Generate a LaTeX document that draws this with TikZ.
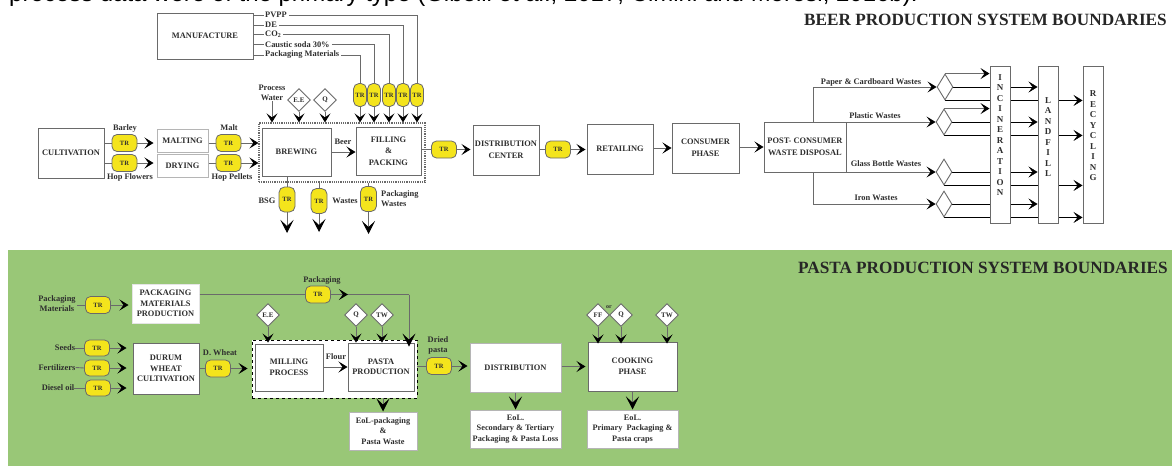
\documentclass[tikz,border=0pt]{standalone}
\usepackage{fontspec}
\setmainfont{Liberation Serif}
\newfontfamily\topfont{Liberation Sans}
\usetikzlibrary{arrows.meta,shapes.geometric,calc,backgrounds}
\definecolor{pill}{HTML}{F4E41C}
\definecolor{gr}{HTML}{99C777}
\definecolor{ln}{HTML}{6A6A6A}
\definecolor{txt}{HTML}{2E2E2E}
\tikzset{
  >={Stealth[length=9pt,width=11pt,inset=4pt,color=black]},
  big/.style={>={Stealth[length=13pt,width=13pt,inset=6pt,color=black]}},
  conn/.style={draw=ln,line width=0.9pt},
  boxn/.style={draw=ln,line width=1pt,fill=white,inner sep=0pt,align=center,font=\bfseries\fontsize{8.4}{10.5}\selectfont,text=txt},
  smallbox/.style={boxn,draw=ln!50,font=\bfseries\fontsize{8.3}{10.5}\selectfont},
  trh/.style={draw=ln,line width=0.8pt,fill=pill,rounded corners=5pt,minimum width=25pt,minimum height=17pt,inner sep=0pt,font=\bfseries\fontsize{6.5}{7}\selectfont,text=txt},
  trv/.style={draw=ln,line width=0.8pt,fill=pill,rounded corners=5.5pt,minimum width=13pt,minimum height=23pt,inner sep=0pt,font=\bfseries\fontsize{6.5}{7}\selectfont,text=txt},
  trb/.style={trv,minimum width=16pt,minimum height=25pt},
  dia/.style={diamond,aspect=1,draw=ln,line width=0.9pt,fill=white,minimum width=23pt,minimum height=23pt,inner sep=0pt,font=\bfseries\fontsize{7}{8}\selectfont,text=txt},
  wdia/.style={dia,minimum width=16pt,minimum height=26pt,aspect=0.6},
  lab/.style={inner sep=0pt,align=center,font=\bfseries\fontsize{8.4}{10}\selectfont,text=txt},
  stack/.style={lab,font=\bfseries\fontsize{9}{10.5}\selectfont},
  head/.style={inner sep=0pt,font=\bfseries\fontsize{17.2}{19}\selectfont,text=black!85},
}
\begin{document}
\begin{tikzpicture}[x=1pt,y=-1pt]
\useasboundingbox (0,0) rectangle (1172,466);
\clip (0,0) rectangle (1172,466);
\begin{scope}[on background layer]
\fill[white] (0,0) rectangle (1172,466);
\fill[gr] (8,250) rectangle (1172,466);
\end{scope}
\node[anchor=base west,inner sep=0pt,font=\topfont\fontsize{24}{26}\selectfont] at (9,1.5) {process data were of the primary type (Gibelli et al., 2017; Cimini and Moresi, 2016b).};
\node[head,anchor=east] (beerh) at (1167,20) {BEER PRODUCTION SYSTEM BOUNDARIES};
\node[head,anchor=east] (pastah) at (1168,268) {PASTA PRODUCTION SYSTEM BOUNDARIES};

% ---------- BEER: boxes
\node[boxn,minimum width=96pt,minimum height=46pt] (manu) at (205,36) {MANUFACTURE};
\node[boxn,minimum width=66pt,minimum height=50pt] (cult) at (71,153) {CULTIVATION};
\node[boxn,minimum width=51pt,minimum height=23pt,draw=ln!50] (malt) at (182.5,141) {MALTING};
\node[boxn,minimum width=51pt,minimum height=23pt,draw=ln!50] (dry) at (182.5,166) {DRYING};
\node[draw=ln,densely dotted,line width=1.2pt,minimum width=166pt,minimum height=59pt,inner sep=0pt] (dotbox) at (342,152.5) {};
\node[boxn,minimum width=69pt,minimum height=48pt] (brew) at (296.5,152) {BREWING};
\node[boxn,minimum width=65pt,minimum height=48pt] (fill) at (388.5,151) {FILLING\\[1pt]\&\\[1pt]PACKING};
\node[boxn,minimum width=66pt,minimum height=50pt] (dist) at (506,150) {DISTRIBUTION\\[1pt]CENTER};
\node[boxn,minimum width=66pt,minimum height=50pt] (ret) at (620,149) {RETAILING};
\node[boxn,minimum width=67pt,minimum height=50pt] (cons) at (705.5,148) {CONSUMER\\[1pt]PHASE};
\node[boxn,minimum width=82pt,minimum height=50pt] (post) at (805,147) {POST- CONSUMER\\[1pt]WASTE DISPOSAL};

% beer TR
\node[trh] (t1) at (124.5,143) {TR};
\node[trh] (t2) at (124.5,163) {TR};
\node[trh] (t3) at (228.5,143) {TR};
\node[trh] (t4) at (228.5,163) {TR};
\node[trh] (t5) at (444,149.5) {TR};
\node[trh] (t6) at (558,149.5) {TR};
\node[trv] (v1) at (360,95) {TR};
\node[trv] (v2) at (374,95) {TR};
\node[trv] (v3) at (389,95) {TR};
\node[trv] (v4) at (403,95) {TR};
\node[trv] (v5) at (417,95) {TR};
\node[trb] (b1) at (287,199.5) {TR};
\node[trb] (b2) at (319,201) {TR};
\node[trb] (b3) at (368.5,199) {TR};

% beer labels
\node[lab] (lbar) at (125,128) {Barley};
\node[lab] (lhf) at (130,177) {Hop Flowers};
\node[lab] (lmalt) at (229,128) {Malt};
\node[lab] (lhp) at (232,177) {Hop Pellets};
\node[lab] (lpw) at (272,93) {Process\\Water};
\node[lab] (lbeer) at (343,142) {Beer};
\node[lab] (lbsg) at (267,201) {BSG};
\node[lab] (lw) at (345,201) {Wastes};
\node[lab,align=left,anchor=west] (lpk) at (381,199) {Packaging\\Wastes};
\node[lab,anchor=west] (m1) at (265,15) {PVPP};
\node[lab,anchor=west] (m2) at (265,25) {DE};
\node[lab,anchor=west] (m3) at (265,34.5) {CO$_{\mathbf 2}$};
\node[lab,anchor=west] (m4) at (265,44.5) {Caustic soda 30\%};
\node[lab,anchor=west] (m5) at (265,55) {Packaging Materials};
\node[dia] (de) at (299,100) {E.E};
\node[dia] (dq) at (325,100) {Q};

% beer connectors
\begin{scope}[conn]
\foreach \a/\b in {m1/v5,m2/v4,m3/v3,m4/v2,m5/v1}{
  \draw ([xshift=2pt]\a.east) -| (\b.north);
  \draw (manu.east |- \a.west) -- ([xshift=-1pt]\a.west);
  \draw[->] (\b.south) -- (\b.south |- dotbox.north);
}
\draw (cult.east |- t1.west) -- (t1.west);
\draw (cult.east |- t2.west) -- (t2.west);
\draw[->] (t1.east) -- ([xshift=-3pt]malt.west |- t1.east);
\draw[->] (t2.east) -- ([xshift=-3pt]dry.west |- t2.east);
\draw (malt.east |- t3.west) -- (t3.west);
\draw (dry.east |- t4.west) -- (t4.west);
\draw[->] (t3.east) -- (dotbox.west |- t3.east);
\draw[->] (t4.east) -- (dotbox.west |- t4.east);
\draw[->] (lpw.south) -- (lpw.south |- dotbox.north);
\draw[->] (de.south) -- (de.south |- dotbox.north);
\draw[->] (dq.south) -- (dq.south |- dotbox.north);
\draw[->] (brew.east) -- (fill.west |- brew.east);
\draw (fill.east |- t5.west) -- (t5.west);
\draw[->] (t5.east) -- ([xshift=-2pt]dist.west |- t5.east);
\draw (dist.east |- t6.west) -- (t6.west);
\draw[->] (t6.east) -- ([xshift=-1pt]ret.west |- t6.east);
\draw[->] (ret.east |- cons.west) -- (cons.west);
\draw[->] (cons.east |- post.west) -- (post.west);
\draw (brew.south -| b1.north) -- (b1.north);
\draw (dotbox.south -| b2.north) -- (b2.north);
\draw (dotbox.south -| b3.north) -- (b3.north);
\coordinate (e1) at (287,233);
\coordinate (e2) at (319,232);
\coordinate (e3) at (368.5,234);
\draw[->,big] (b1.south) -- (e1);
\draw[->,big] (b2.south) -- (e2);
\draw[->,big] (b3.south) -- (e3);
\end{scope}

% waste section
\node[wdia] (w1) at (945,87) {};
\node[wdia] (w2) at (944,122) {};
\node[wdia] (w3) at (944,172) {};
\node[wdia] (w4) at (944,204) {};
\node[boxn,minimum width=20pt,minimum height=157pt] (inc) at (1000,144.5) {};
\node[boxn,minimum width=20pt,minimum height=157pt] (lan) at (1048,144.5) {};
\node[boxn,minimum width=20pt,minimum height=157pt] (rec) at (1093,144.5) {};
\begin{scope}[conn]
\draw[->] (post.north -| 813,0) |- (w1.west);
\draw[->] (post.east |- w2.west) -- (w2.west);
\draw[->] (post.east |- w3.west) -- (w3.west);
\draw[->] (post.south -| 813,0) |- (w4.west);
\draw[->] (w1.north) -- (inc.west |- w1.north);
\draw[->] (w2.north) -- (inc.west |- w2.north);
\begin{scope}[on background layer]
\draw[->] (w1.east) -- (lan.west |- w1.east);
\draw[->] (w2.east) -- (lan.west |- w2.east);
\draw[->] (w3.east) -- (lan.west |- w3.east);
\draw[->] (w4.east) -- (lan.west |- w4.east);
\draw[->] (w1.south) -- (rec.west |- w1.south);
\draw[->] (w2.south) -- (rec.west |- w2.south);
\draw[->] (w3.south) -- (rec.west |- w3.south);
\draw[->] (w4.south) -- (rec.west |- w4.south);
\end{scope}
\end{scope}
\node[stack] (tinc) at (1000,135) {I\\N\\C\\I\\N\\E\\R\\A\\T\\I\\O\\N};
\node[stack] (tlan) at (1048,137) {L\\A\\N\\D\\F\\I\\L\\L};
\node[stack] (trec) at (1093,136) {R\\E\\C\\Y\\C\\L\\I\\N\\G};
\node[lab] (wl1) at (871,82) {Paper \& Cardboard Wastes};
\node[lab] (wl2) at (875,116) {Plastic Wastes};
\node[lab] (wl3) at (886,164) {Glass Bottle Wastes};
\node[lab] (wl4) at (876,198) {Iron Wastes};

% ---------- PASTA
\node[boxn,minimum width=67pt,minimum height=39pt,draw=white!90!black] (pm) at (165.5,303.5) {PACKAGING\\MATERIALS\\PRODUCTION};
\node[boxn,minimum width=66pt,minimum height=51pt] (dw) at (166,368.5) {DURUM\\WHEAT\\CULTIVATION};
\node[draw=black,fill=white,dashed,line width=0.9pt,minimum width=165pt,minimum height=58pt,inner sep=0pt] (dash) at (334.5,369) {};
\node[boxn,minimum width=68pt,minimum height=47pt] (mill) at (289,367.5) {MILLING\\PROCESS};
\node[boxn,minimum width=66pt,minimum height=48pt] (pp) at (381,367) {PASTA\\PRODUCTION};
\node[smallbox,minimum width=68pt,minimum height=38pt] (eol1) at (383,431) {EoL-packaging\\\&\\Pasta Waste};
\node[boxn,minimum width=91pt,minimum height=49pt,draw=ln!50] (ds) at (515.5,367.5) {DISTRIBUTION};
\node[boxn,minimum width=89pt,minimum height=49pt] (ck) at (632.5,366.5) {COOKING\\PHASE};
\node[smallbox,minimum width=91pt,minimum height=38pt] (eol2) at (515.5,429) {EoL.\\Secondary \& Tertiary\\Packaging \& Pasta Loss};
\node[smallbox,minimum width=91pt,minimum height=38pt] (eol3) at (632.5,429) {EoL.\\Primary \ Packaging \&\\Pasta craps};

\node[trh] (p1) at (98,305) {TR};
\node[trh,minimum height=16pt] (p2) at (97,348) {TR};
\node[trh,minimum height=16pt] (p3) at (97,368) {TR};
\node[trh,minimum height=16pt] (p4) at (98,388) {TR};
\node[trh] (p5) at (218,368.5) {TR};
\node[trh] (p6) at (318,294.5) {TR};
\node[trh] (p7) at (439,366) {TR};

\node[lab] (pl1) at (57,303.5) {Packaging\\Materials};
\node[lab] (pl2) at (65,348) {Seeds};
\node[lab] (pl3) at (57,367.5) {Fertilizers};
\node[lab] (pl4) at (58,388) {Diesel oil};
\node[lab] (pl5) at (220,353) {D. Wheat};
\node[lab] (pl6) at (322,281) {Packaging};
\node[lab] (pl7) at (336,357) {Flour};
\node[lab] (pl8) at (438,345.5) {Dried\\pasta};
\node[lab,font=\bfseries\fontsize{6}{7}\selectfont] (por) at (609,307) {or};

\node[dia] (pe) at (268,315) {E.E};
\node[dia] (pq) at (356,315) {Q};
\node[dia] (pt) at (382,315) {TW};
\node[dia] (cf) at (598,315) {FF};
\node[dia] (cq) at (621,315) {Q};
\node[dia] (ct) at (667,315) {TW};
\coordinate (pcorner) at (409,294.5);

\begin{scope}[conn]
\draw[->] (p1.east) -- ([xshift=-3pt]pm.west |- p1.east);
\draw ([xshift=-8pt]p1.west) -- (p1.west);
\draw (pl2.east) -- (p2.west);
\draw (pl3.east) -- (p3.west);
\draw (pl4.east) -- (p4.west);
\draw[->] (p2.east) -- ([xshift=-6pt]dw.west |- p2.east);
\draw[->] (p3.east) -- ([xshift=-6pt]dw.west |- p3.east);
\draw[->] (p4.east) -- ([xshift=-6pt]dw.west |- p4.east);
\draw (dw.east) -- (p5.west);
\draw[->] (p5.east) -- ([xshift=-4pt]dash.west |- p5.east);
\draw (pm.east |- p6.west) -- (p6.west);
\draw (p6.east) -- (pcorner);
\draw[->] (p6.east) -- ([xshift=17pt]p6.east);
\draw[->,big] (pcorner) -- ([yshift=-7pt]pcorner |- dash.north);
\draw[->] (pe.south) -- ([yshift=-3pt]pe.south |- dash.north);
\draw[->] (pq.south) -- ([yshift=-3pt]pq.south |- dash.north);
\draw[->] (pt.south) -- ([yshift=-3pt]pt.south |- dash.north);
\draw[->] (mill.east |- pp.west) -- (pp.west);
\draw (dash.east |- p7.west) -- (p7.west);
\draw[->] (p7.east) -- ([xshift=-2pt]ds.west |- p7.east);
\draw[->] (ds.east |- ck.west) -- ([xshift=-2pt]ck.west);
\draw[->,big] (dash.south -| eol1.north) -- (eol1.north);
\draw[->,big] (ds.south) -- (eol2.north);
\draw[->,big] (ck.south) -- (ck.south |- eol3.north);
\draw[->] (cf.south) -- ([yshift=-2pt]cf.south |- ck.north);
\draw[->] (cq.south) -- ([yshift=-2pt]cq.south |- ck.north);
\draw[->] (ct.south) -- ([yshift=-2pt]ct.south |- ck.north);
\end{scope}
\end{tikzpicture}
\end{document}
